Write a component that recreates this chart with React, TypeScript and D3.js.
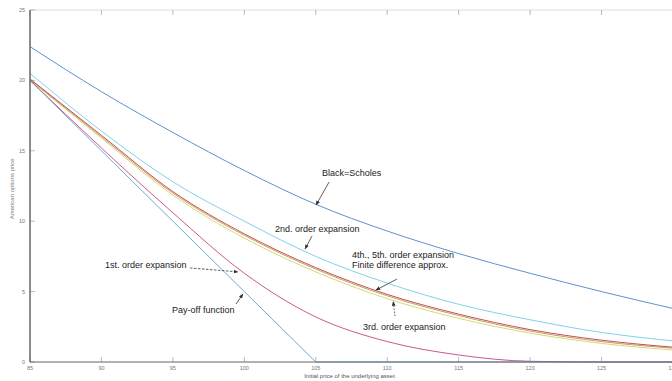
import * as d3 from "d3";

const W = 672;
const H = 381;

// underlying price grid
const prices = [85, 90, 95, 100, 105, 110, 115, 120, 125, 130];

// option prices
const blackScholes = [22.4, 19.2, 16.3, 13.6, 11.2, 9.3, 7.7, 6.3, 5.0, 3.8];
const secondOrder = [20.5, 16.4, 12.8, 10.0, 7.5, 5.6, 4.1, 3.0, 2.1, 1.5];
const fourthFifth = [20.1, 16.1, 12.1, 9.1, 6.7, 4.8, 3.4, 2.3, 1.55, 1.05];
const finiteDiff = [20.05, 16.0, 12.0, 9.0, 6.6, 4.7, 3.3, 2.2, 1.45, 0.98];
const thirdOrder = [20.0, 15.9, 11.85, 8.8, 6.4, 4.5, 3.1, 2.05, 1.32, 0.85];
const firstOrder = [20.0, 15.2, 10.6, 6.3, 3.2, 1.45, 0.5, 0.05, 0, 0];
const payoff = [20, 15, 10, 5, 0, 0, 0, 0, 0, 0];

const xTicks = [85, 90, 95, 100, 105, 110, 115, 120, 125, 130];
const yTicks = [0, 5, 10, 15, 20, 25];

type Series = { name: string; values: number[]; color: string; linear?: boolean };

const series: Series[] = [
  { name: "Black=Scholes", values: blackScholes, color: "#4a86c6" },
  { name: "2nd", values: secondOrder, color: "#74cbea" },
  { name: "3rd", values: thirdOrder, color: "#d3d468" },
  { name: "fd", values: finiteDiff, color: "#b8945c" },
  { name: "4th5th", values: fourthFifth, color: "#bf3a34" },
  { name: "1st", values: firstOrder, color: "#c8447a" },
  { name: "payoff", values: payoff, color: "#5a9fd2", linear: true },
];

// annotations in data units: text position, arrow tail -> tip
type Note = { lines: string[]; x: number; y: number; from: [number, number]; to: [number, number]; dash?: string };
const notes: Note[] = [
  { lines: ["Black=Scholes"], x: 105.43, y: 13.21, from: [105.93, 12.78], to: [105.02, 11.15] },
  { lines: ["2nd. order expansion"], x: 102.15, y: 9.23, from: [104.74, 8.95], to: [104.25, 8.03] },
  { lines: ["4th., 5th. order expansion", "Finite difference approx."], x: 107.53, y: 7.39, from: [110.68, 5.89], to: [109.21, 5.11] },
  { lines: ["3rd. order expansion"], x: 108.3, y: 2.27, from: [110.54, 3.27], to: [110.42, 4.3], dash: "1.5,1.5" },
  { lines: ["1st. order expansion"], x: 90.25, y: 6.68, from: [96.2, 6.68], to: [99.56, 6.4], dash: "2.5,1.5" },
  { lines: ["Pay-off function"], x: 94.94, y: 3.48, from: [99.42, 4.12], to: [99.9, 4.83] },
];

export default function App() {
  const x = d3.scaleLinear().domain([85, 130]).range([30, 673]);
  const y = d3.scaleLinear().domain([0, 25]).range([362, 10]);

  const makeLine = (s: Series) =>
    d3
      .line<number>()
      .x((_, i) => x(prices[i]))
      .y((d) => y(d))
      .curve(s.linear ? d3.curveLinear : d3.curveMonotoneX)(s.values) || "";

  const axisColor = "#666";
  const font = "Liberation Sans, Arial, sans-serif";

  return (
    <svg
      width={W}
      height={H}
      style={{ position: "absolute", left: 0, top: 0, background: "#fff" }}
      fontFamily={font}
    >
      <defs>
        <marker id="arr" viewBox="0 0 10 10" refX="9" refY="5" markerWidth="6" markerHeight="6" orient="auto">
          <path d="M0,1 L10,5 L0,9 Z" fill="#333" />
        </marker>
      </defs>

      {/* box */}
      <line x1={x(85)} x2={W} y1={y(25)} y2={y(25)} stroke="#ddd" strokeWidth={1} />

      {/* ticks */}
      {xTicks.map((t) => (
        <g key={"xt" + t}>
          <line x1={x(t)} x2={x(t)} y1={y(0)} y2={y(0) - 5} stroke="#aaa" strokeWidth={0.8} />
          <line x1={x(t)} x2={x(t)} y1={y(25)} y2={y(25) + 5} stroke="#aaa" strokeWidth={0.8} />
          <text x={x(t)} y={y(0) + 8} fontSize={5.5} fill="#777" textAnchor="middle">
            {t}
          </text>
        </g>
      ))}
      {yTicks.map((t) => (
        <g key={"yt" + t}>
          <line x1={x(85)} x2={x(85) + 5} y1={y(t)} y2={y(t)} stroke="#aaa" strokeWidth={0.8} />
          <text x={x(85) - 5} y={y(t) + 2} fontSize={5.5} fill="#777" textAnchor="end">
            {t}
          </text>
        </g>
      ))}

      {/* curves */}
      {series.map((s) => (
        <path key={s.name} d={makeLine(s)} fill="none" stroke={s.color} strokeWidth={0.9} />
      ))}

      {/* axes */}
      <line x1={x(85)} x2={W} y1={y(0)} y2={y(0)} stroke={axisColor} strokeWidth={1.2} />
      <line x1={x(85)} x2={x(85)} y1={y(25)} y2={y(0)} stroke={axisColor} strokeWidth={1.5} />

      {/* axis labels */}
      <text x={(x(85) + x(130)) / 2 - 2} y={378} fontSize={6} fill="#555" textAnchor="middle">
        Initial price of the underlying asset
      </text>
      <text
        transform={`translate(14, ${y(12.3)}) rotate(-90)`}
        fontSize={6}
        fill="#777"
        textAnchor="middle"
      >
        American options price
      </text>

      {/* annotations */}
      {notes.map((n, i) => (
        <g key={"n" + i}>
          {n.lines.map((l, j) => (
            <text key={j} x={x(n.x)} y={y(n.y) + j * 10} fontSize={9} fill="#222">
              {l}
            </text>
          ))}
          <line
            x1={x(n.from[0])}
            y1={y(n.from[1])}
            x2={x(n.to[0])}
            y2={y(n.to[1])}
            stroke="#333"
            strokeWidth={0.8}
            strokeDasharray={n.dash}
            markerEnd="url(#arr)"
          />
        </g>
      ))}
    </svg>
  );
}
